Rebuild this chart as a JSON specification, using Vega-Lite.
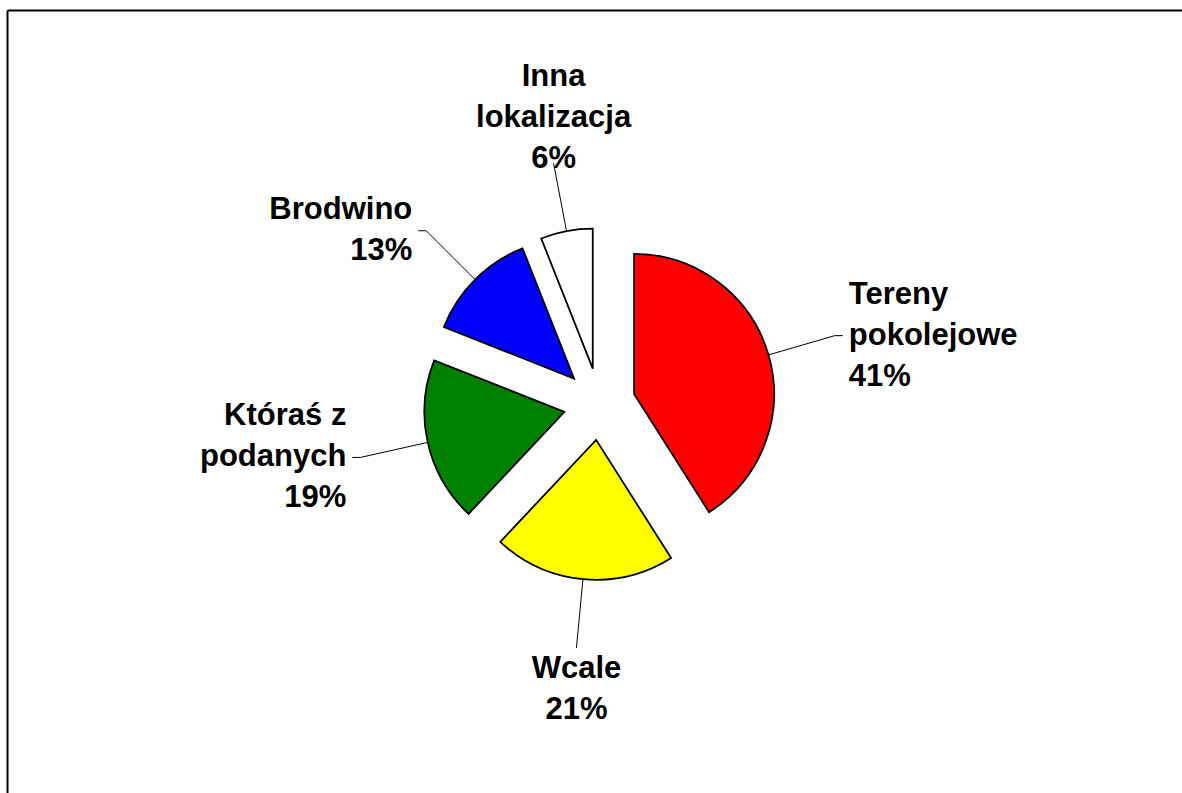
{
  "$schema": "https://vega.github.io/schema/vega-lite/v6.json",
  "width": 1175,
  "height": 783,
  "autosize": {"type": "none"},
  "padding": {"left": 7, "top": 10, "right": 0, "bottom": 0},
  "background": "white",
  "config": {
    "view": {"stroke": null},
    "axis": {"ticks": false, "labels": false, "grid": false, "domainColor": "#000000", "domainWidth": 2}
  },
  "data": {
    "values": [
      {"category": "Tereny pokolejowe", "value": 41},
      {"category": "Wcale", "value": 21},
      {"category": "Któraś z podanych", "value": 19},
      {"category": "Brodwino", "value": 13},
      {"category": "Inna lokalizacja", "value": 6}
    ]
  },
  "transform": [
    {"window": [{"op": "sum", "field": "value", "as": "end"}], "frame": [null, 0]},
    {"calculate": "datum.end - datum.value", "as": "start"},
    {"calculate": "(datum.start + datum.end) * PI / 100", "as": "mid"},
    {"calculate": "36 * sin(datum.mid)", "as": "ox"},
    {"calculate": "36 * cos(datum.mid)", "as": "oy"},
    {"calculate": "176 * sin(datum.mid)", "as": "lx1"},
    {"calculate": "176 * cos(datum.mid)", "as": "ly1"},
    {"calculate": "245 * sin(datum.mid)", "as": "ex"},
    {"calculate": "245 * cos(datum.mid)", "as": "ey"},
    {"calculate": "sin(datum.mid) > 0.5 ? 'right' : (sin(datum.mid) < -0.5 ? 'left' : (cos(datum.mid) > 0 ? 'top' : 'bottom'))", "as": "side"},
    {"calculate": "datum.side === 'right' ? 1 : (datum.side === 'left' ? -1 : 0)", "as": "sgn"},
    {"calculate": "datum.ex + 8 * datum.sgn", "as": "tailx"},
    {"calculate": "lastindexof(datum.category, ' ') < 0 ? [datum.category, datum.value + '%'] : [substring(datum.category, 0, lastindexof(datum.category, ' ')), substring(datum.category, lastindexof(datum.category, ' ') + 1), datum.value + '%']", "as": "label"},
    {"calculate": "length(datum.label)", "as": "nlines"},
    {"calculate": "datum.ex + 14 * datum.sgn", "as": "tx"},
    {"calculate": "datum.sgn !== 0 ? datum.ey + (datum.nlines - 1) * 20.5 : (datum.side === 'top' ? datum.ey - 12 + (datum.nlines - 1) * 41 : datum.ey - 6)", "as": "ty"}
  ],
  "layer": [
    {
      "mark": {"type": "arc", "outerRadius": 140, "stroke": "#000000", "strokeWidth": 1.8},
      "encoding": {
        "theta": {"field": "start", "type": "quantitative", "scale": {"domain": [0, 100]}},
        "theta2": {"field": "end"},
        "x": {"field": "ox", "type": "quantitative", "scale": {"domain": [-592.5, 582.5], "nice": false, "zero": false}, "axis": {"orient": "top"}, "title": null},
        "y": {"field": "oy", "type": "quantitative", "scale": {"domain": [-389, 394], "nice": false, "zero": false}, "axis": {"orient": "left"}, "title": null},
        "color": {
          "field": "category",
          "type": "nominal",
          "scale": {
            "domain": ["Tereny pokolejowe", "Wcale", "Któraś z podanych", "Brodwino", "Inna lokalizacja"],
            "range": ["#FF0000", "#FFFF00", "#008000", "#0000FF", "#FFFFFF"]
          },
          "legend": null
        }
      }
    },
    {
      "mark": {"type": "rule", "color": "#000000", "strokeWidth": 1},
      "encoding": {
        "x": {"field": "lx1", "type": "quantitative", "axis": {"orient": "top"}, "title": null},
        "y": {"field": "ly1", "type": "quantitative", "axis": {"orient": "left"}, "title": null},
        "x2": {"field": "ex"},
        "y2": {"field": "ey"}
      }
    },
    {
      "transform": [{"filter": "datum.sgn !== 0"}],
      "mark": {"type": "rule", "color": "#000000", "strokeWidth": 1},
      "encoding": {
        "x": {"field": "ex", "type": "quantitative", "axis": {"orient": "top"}, "title": null},
        "y": {"field": "ey", "type": "quantitative", "axis": {"orient": "left"}, "title": null},
        "x2": {"field": "tailx"}
      }
    },
    {
      "transform": [{"filter": "datum.side === 'right'"}],
      "mark": {"type": "text", "align": "left", "baseline": "middle", "font": "Liberation Sans", "fontWeight": "bold", "fontSize": 31, "lineHeight": 41, "color": "#000000"},
      "encoding": {
        "x": {"field": "tx", "type": "quantitative", "axis": {"orient": "top"}, "title": null},
        "y": {"field": "ty", "type": "quantitative", "axis": {"orient": "left"}, "title": null},
        "text": {"field": "label", "type": "nominal"}
      }
    },
    {
      "transform": [{"filter": "datum.side === 'left'"}],
      "mark": {"type": "text", "align": "right", "baseline": "middle", "font": "Liberation Sans", "fontWeight": "bold", "fontSize": 31, "lineHeight": 41, "color": "#000000"},
      "encoding": {
        "x": {"field": "tx", "type": "quantitative", "axis": {"orient": "top"}, "title": null},
        "y": {"field": "ty", "type": "quantitative", "axis": {"orient": "left"}, "title": null},
        "text": {"field": "label", "type": "nominal"}
      }
    },
    {
      "transform": [{"filter": "datum.side === 'top'"}],
      "mark": {"type": "text", "align": "center", "baseline": "bottom", "font": "Liberation Sans", "fontWeight": "bold", "fontSize": 31, "lineHeight": 41, "color": "#000000"},
      "encoding": {
        "x": {"field": "tx", "type": "quantitative", "axis": {"orient": "top"}, "title": null},
        "y": {"field": "ty", "type": "quantitative", "axis": {"orient": "left"}, "title": null},
        "text": {"field": "label", "type": "nominal"}
      }
    },
    {
      "transform": [{"filter": "datum.side === 'bottom'"}],
      "mark": {"type": "text", "align": "center", "baseline": "top", "font": "Liberation Sans", "fontWeight": "bold", "fontSize": 31, "lineHeight": 41, "color": "#000000"},
      "encoding": {
        "x": {"field": "tx", "type": "quantitative", "axis": {"orient": "top"}, "title": null},
        "y": {"field": "ty", "type": "quantitative", "axis": {"orient": "left"}, "title": null},
        "text": {"field": "label", "type": "nominal"}
      }
    }
  ]
}
